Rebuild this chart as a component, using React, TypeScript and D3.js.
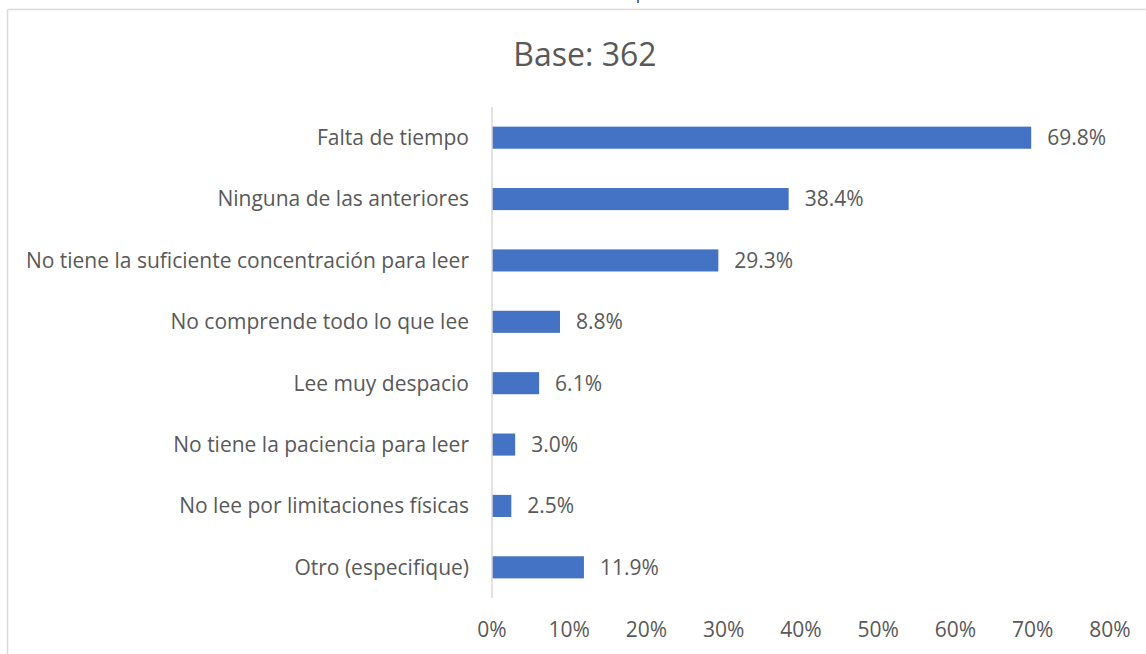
import React from "react";
import * as d3 from "d3";

const categories: string[] = [
  "Falta de tiempo",
  "Ninguna de las anteriores",
  "No tiene la suficiente concentración para leer",
  "No comprende todo lo que lee",
  "Lee muy despacio",
  "No tiene la paciencia para leer",
  "No lee por limitaciones físicas",
  "Otro (especifique)",
];
const values: number[] = [69.8, 38.4, 29.3, 8.8, 6.1, 3.0, 2.5, 11.9];
const xTicks: number[] = [0, 10, 20, 30, 40, 50, 60, 70, 80];
const title = "Base: 362";

const W = 1146;
const H = 654;
const FONT = "'Open Sans', sans-serif";
const TEXT = "#595959";
const BAR = "#4472C4";
const FS = 21;

export default function App() {
  const x = d3.scaleLinear().domain([0, 80]).range([492, 1110]);
  const y = d3.scaleBand<string>().domain(categories).range([107, 598]).paddingInner(0.64).paddingOuter(0.32);
  const bw = y.bandwidth();

  return (
    <svg
      width={W}
      height={H}
      style={{ position: "absolute", left: 0, top: 0, background: "#fff" }}
      fontFamily={FONT}
    >
      <rect x={0} y={0} width={W} height={H} fill="#fff" />
      <line x1={7.5} y1={9.5} x2={W} y2={9.5} stroke="#D9D9D9" strokeWidth={1.5} />
      <line x1={7.5} y1={9.5} x2={7.5} y2={H} stroke="#D9D9D9" strokeWidth={1.5} />
      <rect x={637} y={0} width={2} height={3} fill={BAR} />
      <text x={585} y={66} textAnchor="middle" fontSize={32} fill={TEXT}>
        {title}
      </text>
      {categories.map((c, i) => (
        <g key={c}>
          <rect x={x(0)} y={y(c)!} width={x(values[i]) - x(0)} height={bw} fill={BAR} />
          <text x={x(values[i]) + 16} y={y(c)! + bw / 2} dy="0.35em" fontSize={FS} fill={TEXT}>
            {values[i].toFixed(1) + "%"}
          </text>
          <text x={469} y={y(c)! + bw / 2} dy="0.35em" textAnchor="end" fontSize={FS} fill={TEXT}>
            {c}
          </text>
        </g>
      ))}
      <line x1={x(0)} y1={107} x2={x(0)} y2={598} stroke="#D9D9D9" strokeWidth={1.5} />
      {xTicks.map((t) => (
        <text key={t} x={x(t)} y={630} dy="0.35em" textAnchor="middle" fontSize={FS} fill={TEXT}>
          {t + "%"}
        </text>
      ))}
    </svg>
  );
}
